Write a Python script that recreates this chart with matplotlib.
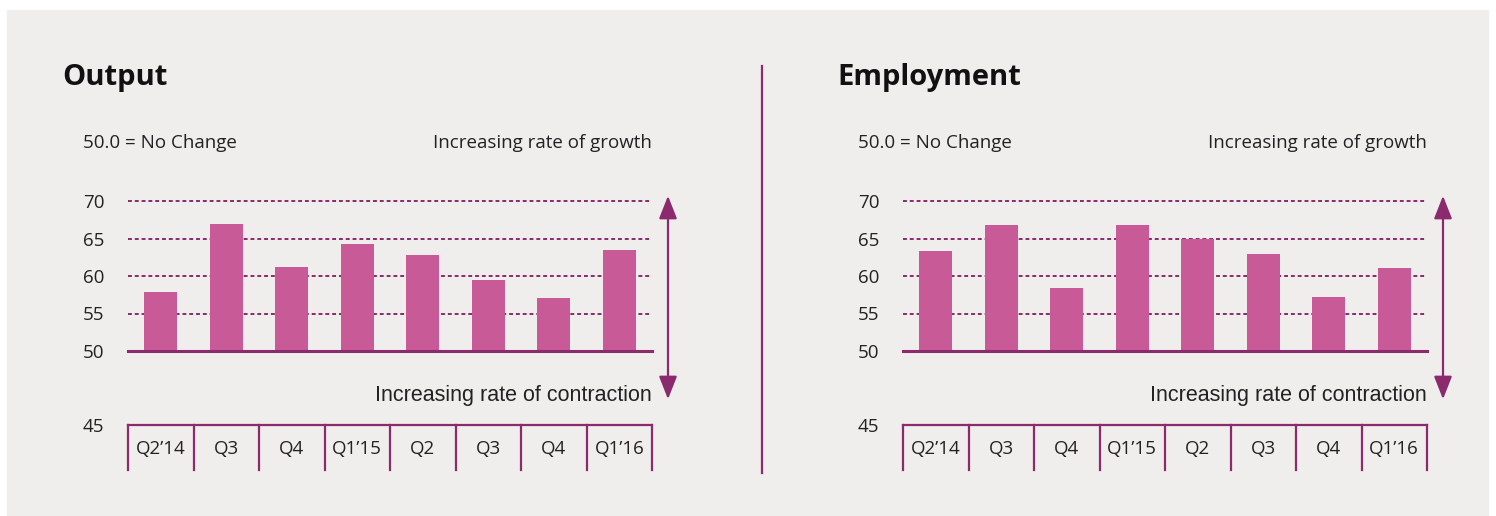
import matplotlib.pyplot as plt
from matplotlib.patches import Rectangle, FancyArrowPatch

quarters = ["Q2\u201914", "Q3", "Q4", "Q1\u201915", "Q2", "Q3", "Q4", "Q1\u201916"]
output_vals = [57.9, 67.0, 61.2, 64.2, 62.8, 59.5, 57.1, 63.5]
employment_vals = [63.3, 66.8, 58.4, 66.8, 65.0, 63.0, 57.2, 61.1]
y_ticks = [50, 55, 60, 65, 70]

BAR = "#c95a98"
PURPLE = "#8b2a6c"
BG = "#efeeec"
TXT = "#222222"

W, H = 1496, 516
plt.rcParams['font.family'] = ['Open Sans', 'DejaVu Sans']

fig = plt.figure(figsize=(W / 100, H / 100), dpi=100, facecolor="white")
fig.patches.append(Rectangle((7 / W, 0), 1481 / W, 506 / H,
                             transform=fig.transFigure, color=BG, zorder=-10))


def box(x0, y0, x1, y1):
    # pixel box (top-left origin) -> figure fraction rect
    return [x0 / W, 1 - y1 / H, (x1 - x0) / W, (y1 - y0) / H]


def fx(x):
    return x / W


def fy(y):
    return 1 - y / H


def panel(dx, title, vals):
    left, right = 128 + dx, 652 + dx
    ax = fig.add_axes(box(left, 201, right, 351))
    ax.set_facecolor("none")
    x = range(len(vals))
    for t in y_ticks[1:]:
        ax.axhline(t, color=PURPLE, lw=1.4, ls=(0, (2, 1.5)), zorder=1, clip_on=False)
    ax.bar(x, [v - 50 for v in vals], bottom=50, width=0.5, color=BAR, zorder=2)
    ax.axhline(50, color=PURPLE, lw=2.2, zorder=3, clip_on=False)
    ax.set_xlim(-0.5, len(vals) - 0.5)
    ax.set_ylim(50, 70)
    ax.set_yticks(y_ticks)
    ax.tick_params(axis='y', length=0, pad=17, labelsize=13.5, labelcolor=TXT)
    ax.set_xticks([])
    for s in ax.spines.values():
        s.set_visible(False)

    # category box
    cax = fig.add_axes(box(left, 425, right, 470))
    cax.set_facecolor("none")
    cax.set_xlim(-0.5, len(vals) - 0.5)
    cax.set_ylim(0, 1)
    for b in range(len(vals) + 1):
        cax.plot([b - 0.5, b - 0.5], [0, 1], color=PURPLE, lw=1.6, clip_on=False)
    cax.plot([-0.5, len(vals) - 0.5], [1, 1], color=PURPLE, lw=1.6, clip_on=False)
    for i, q in enumerate(quarters):
        cax.text(i, 0.47, q, ha='center', va='center', fontsize=13.5, color=TXT)
    cax.set_xticks([])
    cax.set_yticks([1])
    cax.set_yticklabels(["45"])
    cax.tick_params(axis='y', length=0, pad=17, labelsize=13.5, labelcolor=TXT)
    for s in cax.spines.values():
        s.set_visible(False)

    fig.text(fx(62 + dx), fy(78), title, fontsize=21, fontweight='bold',
             color="#111111", va='center', ha='left')
    fig.text(fx(83 + dx), fy(143), "50.0 = No Change", fontsize=13.5,
             color=TXT, va='center', ha='left')
    fig.text(fx(652 + dx), fy(143), "Increasing rate of growth", fontsize=13.5,
             color=TXT, va='center', ha='right')
    fig.text(fx(652 + dx), fy(396), "Increasing rate of contraction", fontsize=15.5,
             color=TXT, va='center', ha='right', family=['Liberation Sans', 'DejaVu Sans'])
    fig.patches.append(FancyArrowPatch(
        (fx(668 + dx), fy(402)), (fx(668 + dx), fy(193)),
        transform=fig.transFigure, arrowstyle='<|-|>,head_length=14,head_width=5.5',
        color=PURPLE, lw=1.6))


panel(0, "Output", output_vals)
panel(775, "Employment", employment_vals)

fig.add_artist(plt.Line2D([fx(762), fx(762)], [fy(66), fy(473)],
                          transform=fig.transFigure, color=PURPLE, lw=1.6))

fig.savefig("out.png", dpi=100, facecolor="white")
